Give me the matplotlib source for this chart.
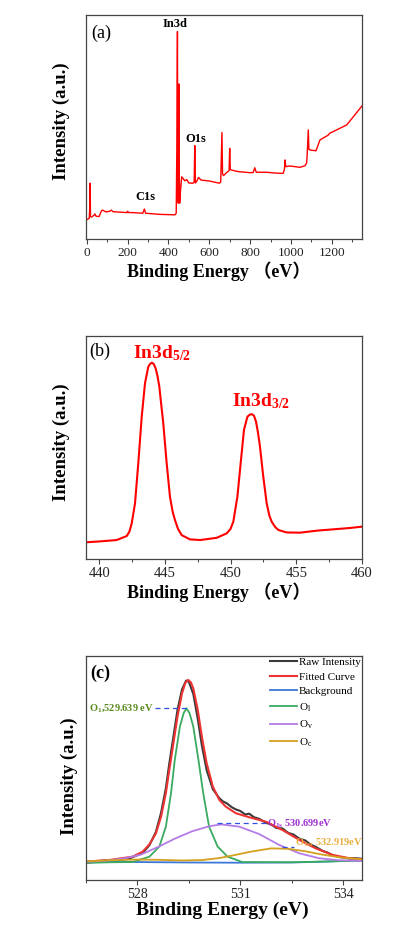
import matplotlib
matplotlib.use('Agg')
import matplotlib.pyplot as plt
from matplotlib.ticker import MultipleLocator

plt.rcParams['font.family'] = ['Liberation Serif', 'Noto Sans CJK SC']
plt.rcParams['mathtext.fontset'] = 'custom'
plt.rcParams['mathtext.rm'] = 'Liberation Serif'
plt.rcParams['mathtext.it'] = 'Liberation Serif:italic'
plt.rcParams['mathtext.bf'] = 'Liberation Serif:bold'

# ---- (a) survey spectrum
survey_be = [-4, 3, 12, 15, 16.5, 18, 24, 36, 40, 45, 60, 72, 78, 93, 110, 120, 128, 160,
             197, 200, 204, 224, 274, 282, 288, 356, 432, 438, 441, 444, 446, 448, 450,
             451.5, 453, 455, 458, 465, 480, 490, 500, 520, 526, 529, 532, 540, 547, 560,
             600, 650, 656, 662, 665, 670, 683, 697, 700, 703, 708, 740, 800, 815, 823,
             830, 880, 930, 962, 968, 971, 975, 995, 1044, 1069, 1077, 1080, 1085, 1088,
             1095, 1123, 1142, 1183, 1190, 1224, 1273, 1306, 1348]
survey_int = [8.2, 8.8, 9.2, 15, 24.9, 10.0, 9.8, 10.7, 11.2, 10.2, 10.0, 12.6, 12.9, 12.1,
              12.3, 12.9, 12.2, 12.0, 11.8, 12.4, 11.8, 11.8, 11.5, 13.4, 11.5, 11.0, 10.8,
              11.5, 40, 92.6, 20, 16, 50, 69.2, 30, 16, 20.4, 27.8, 26.0, 26.5, 25.0, 24.9,
              25.5, 41.7, 25.0, 26.0, 27.5, 26.3, 25.9, 24.9, 25.5, 47.5, 29, 28.3, 29.5,
              30.5, 40.5, 31, 30.8, 30.1, 29.6, 29.7, 31.8, 29.8, 29.8, 29.4, 29.3, 31, 35.3,
              32.3, 32.6, 32.0, 32.7, 34, 38.2, 48.7, 40, 39.7, 39.4, 44.2, 46.4, 47.2, 48.7,
              50.9, 54.6, 59.4]

# ---- (b) In 3d high resolution
in3d_be = [439.0, 440.07, 441.33, 442.10, 442.30, 442.48, 442.73, 442.98, 443.24, 443.49,
           443.74, 443.88, 444.02, 444.16, 444.30, 444.44, 444.58, 444.88, 445.14, 445.39,
           445.60, 445.77, 446.0, 446.28, 446.91, 447.68, 448.95, 449.71, 450.0, 450.21,
           450.52, 450.77, 451.02, 451.28, 451.45, 451.61, 451.78, 451.94, 452.09, 452.24,
           452.49, 452.75, 452.95, 453.13, 453.40, 453.64, 454.27, 455.29, 456.56, 457.82,
           459.09, 460.0]
in3d_int = [7.5, 7.9, 8.5, 10.3, 12.2, 16.0, 24.9, 42.9, 63.7, 78.7, 86.1, 87.4, 87.9, 87.3,
            85.4, 82.0, 77.2, 60.8, 42.9, 27.9, 21.0, 17.5, 13.5, 10.7, 8.8, 8.5, 9.5, 11.5,
            13.5, 16.7, 27.9, 42.9, 57.8, 63.7, 64.6, 64.9, 64.2, 61.5, 56.5, 50.3, 36.9, 24.9,
            19.5, 16.7, 14.3, 13.0, 11.9, 11.8, 12.7, 13.3, 13.9, 14.5]

# ---- (c) O 1s fit
raw_be = [526.48, 526.8, 527.1, 527.4, 527.8, 528.15, 528.35, 528.54, 528.69, 528.83, 528.93,
          529.05, 529.17, 529.30, 529.42, 529.50, 529.63, 529.76, 529.88, 530.02, 530.20,
          530.39, 530.50, 530.60, 530.75, 530.87, 531.0, 531.15, 531.26, 531.4, 531.55,
          531.75, 531.9, 532.05, 532.23, 532.4, 532.55, 532.72, 532.9, 533.05, 533.2, 533.4,
          533.55, 533.69, 533.9, 534.05, 534.18, 534.35, 534.53]
raw_int = [7.6, 8.2, 8.9, 8.6, 9.8, 12.0, 15.5, 21.5, 30.0, 41.0, 52.0, 64.0, 76.0, 85.0,
           89.0, 88.5, 83.0, 72.0, 60.0, 49.0, 40.5, 36.5, 35.0, 34.3, 32.5, 31.5, 30.8, 29.2,
           29.6, 28.0, 27.3, 25.5, 24.8, 23.2, 23.0, 21.0, 20.3, 18.5, 17.6, 15.8, 14.8, 13.0,
           12.2, 11.0, 10.2, 9.9, 9.6, 9.7, 9.5]

fit_be = [526.48, 527.18, 527.86, 528.15, 528.35, 528.54, 528.69, 528.83, 528.93, 529.05,
          529.17, 529.30, 529.40, 529.48, 529.56, 529.63, 529.76, 529.88, 530.02, 530.20,
          530.39, 530.58, 530.87, 531.26, 531.75, 532.23, 532.72, 533.2, 533.69, 534.18,
          534.53]
fit_int = [8.2, 8.9, 10.4, 12.6, 15.9, 20.8, 28.3, 38.7, 49.1, 61.0, 73.0, 83.3, 88.0, 89.3,
           88.2, 85.5, 75.9, 64.0, 52.1, 41.7, 35.7, 32.7, 29.8, 28.0, 26.0, 22.3, 17.9, 14.1,
           11.2, 9.7, 9.2]

bg_be = [526.48, 528.0, 529.5, 531.0, 532.5, 533.5, 534.53]
bg_int = [8.3, 8.0, 7.8, 7.7, 7.8, 8.2, 8.8]

ol_be = [526.48, 527.2, 527.86, 528.35, 528.64, 528.83, 528.98, 529.09, 529.24, 529.35,
         529.43, 529.52, 529.63, 529.78, 529.92, 530.09, 530.34, 530.63, 531.06, 532.5, 534.53]
ol_int = [7.6, 7.9, 8.0, 10.4, 14.9, 23.8, 38.7, 53.6, 68.5, 74.5, 76.6, 74.5, 68.5, 53.6,
          38.7, 23.8, 14.9, 10.4, 8.0, 7.9, 8.6]

ov_be = [526.48, 527.2, 527.67, 528.1, 528.64, 529.1, 529.61, 530.10, 530.45, 530.97, 531.55,
         532.14, 532.72, 533.30, 533.88, 534.53]
ov_int = [8.0, 8.8, 9.8, 11.3, 15.0, 18.5, 21.8, 24.0, 24.8, 23.8, 20.5, 15.6, 11.9, 9.7, 8.8, 8.5]

oc_be = [526.48, 527.2, 528.0, 528.6, 529.3, 529.9, 530.4, 530.8, 531.3, 531.9, 532.4, 532.9,
         533.4, 533.9, 534.53]
oc_int = [8.3, 8.8, 9.1, 9.0, 8.7, 8.9, 9.8, 11.0, 12.6, 14.1, 13.9, 12.8, 11.3, 10.1, 9.2]

fig = plt.figure(figsize=(3.99, 9.30), dpi=100)
ax1 = fig.add_axes([0.2155, 0.743, 0.6917, 0.2409])
ax2 = fig.add_axes([0.2155, 0.3989, 0.6917, 0.2401])
ax3 = fig.add_axes([0.2155, 0.0538, 0.6917, 0.2409])


def style_axes(ax, tick_size):
    for s in ax.spines.values():
        s.set_color('#444444')
        s.set_linewidth(0.9)
    ax.set_yticks([])
    ax.tick_params(axis='x', which='major', direction='out', length=3.5, width=0.8,
                   labelsize=tick_size, colors='#444444', labelcolor='#222222', pad=2)
    ax.tick_params(axis='x', which='minor', direction='out', length=2.2, width=0.7,
                   colors='#444444')
    ax.set_ylim(0, 100)


# (a)
ax1.plot(survey_be, survey_int, color='#ff0000', lw=1.0)
ax1.set_xlim(-4, 1348)
ax1.xaxis.set_major_locator(MultipleLocator(200))
ax1.xaxis.set_minor_locator(MultipleLocator(100))
style_axes(ax1, 9.5)
ax1.text(0.018, 0.92, '(a)', transform=ax1.transAxes, fontsize=13, va='center')
ax1.text(431, 96, 'In3d', fontsize=9, fontweight='bold', ha='center', va='center')
ax1.text(535, 44.6, 'O1s', fontsize=9, fontweight='bold', ha='center', va='center')
ax1.text(289, 18.8, 'C1s', fontsize=9, fontweight='bold', ha='center', va='center')
ax1.set_ylabel('Intensity (a.u.)', fontsize=13.5, fontweight='bold')
ax1.yaxis.set_label_coords(-0.058, 0.528)
ax1.set_xlabel('Binding Energy （eV）', fontsize=13, fontweight='bold')
ax1.xaxis.set_label_coords(0.48, -0.10)

# (b)
ax2.plot(in3d_be, in3d_int, color='#ff0000', lw=1.5)
ax2.set_xlim(439, 460)
ax2.xaxis.set_major_locator(MultipleLocator(5))
ax2.xaxis.set_minor_locator(MultipleLocator(2.5))
style_axes(ax2, 10.5)
ax2.text(0.011, 0.928, '(b)', transform=ax2.transAxes, fontsize=13, va='center')
ax2.text(442.58, 89.9, r'$\mathbf{In3d_{5/2}}$', fontsize=14, color='#ff0000', va='baseline')
ax2.text(450.11, 68.2, r'$\mathbf{In3d_{3/2}}$', fontsize=14, color='#ff0000', va='baseline')
ax2.set_ylabel('Intensity (a.u.)', fontsize=13.5, fontweight='bold')
ax2.yaxis.set_label_coords(-0.058, 0.521)
ax2.set_xlabel('Binding Energy （eV）', fontsize=13, fontweight='bold')
ax2.xaxis.set_label_coords(0.48, -0.105)

# (c)
ax3.plot(raw_be, raw_int, color='#3a3a3a', lw=1.5, label='Raw Intensity')
ax3.plot(fit_be, fit_int, color='#ee3333', lw=1.5, label='Fitted Curve')
ax3.plot(bg_be, bg_int, color='#3c78d8', lw=1.3, label='Background')
ax3.plot(ol_be, ol_int, color='#3aaa60', lw=1.3, label=r'O$_\mathregular{l}$')
ax3.plot(ov_be, ov_int, color='#b47ce6', lw=1.3, label=r'O$_\mathregular{v}$')
ax3.plot(oc_be, oc_int, color='#d4a11e', lw=1.3, label=r'O$_\mathregular{c}$')
ax3.set_xlim(526.5, 534.55)
ax3.xaxis.set_major_locator(MultipleLocator(3))
ax3.xaxis.set_minor_locator(MultipleLocator(1.5))
style_axes(ax3, 10)
ax3.text(0.0145, 0.923, '(c)', transform=ax3.transAxes, fontsize=13, fontweight='bold',
         va='center')
ax3.legend(loc='upper right', bbox_to_anchor=(1.0, 1.0), frameon=False, fontsize=8,
           handlelength=2.5, handletextpad=0.15, labelspacing=0.45, borderpad=0.1,
           borderaxespad=0.0)

# peak position callouts
ax3.plot([528.5, 529.43], [76.6, 76.6], ls=(0, (4, 3)), color='#3050e0', lw=0.9)
ax3.text(528.47, 76.6, r'$\mathbf{O_{1}}$,529.639 eV', fontsize=7.5, fontweight='bold',
         color='#5a8a1e', ha='right', va='center')
ax3.plot([530.33, 531.76], [25.3, 25.3], ls=(0, (4, 3)), color='#3050e0', lw=0.9)
ax3.text(531.78, 25.3, r'$\mathbf{O_{1s}}$ 530.699eV', fontsize=7.5, fontweight='bold',
         color='#a030d0', ha='left', va='center')
ax3.plot([532.22, 532.57], [14.9, 14.9], ls=(0, (4, 3)), color='#3050e0', lw=0.9)
ax3.text(532.6, 16.8, r'$\mathbf{O_{1s}}$, 532.919eV', fontsize=7.5, fontweight='bold',
         color='#e8b040', ha='left', va='center')

ax3.set_ylabel('Intensity (a.u.)', fontsize=13.5, fontweight='bold')
ax3.yaxis.set_label_coords(-0.029, 0.464)
ax3.set_xlabel('Binding Energy (eV)', fontsize=14, fontweight='bold')
ax3.xaxis.set_label_coords(0.495, -0.095)

fig.savefig('out.png', dpi=100)
